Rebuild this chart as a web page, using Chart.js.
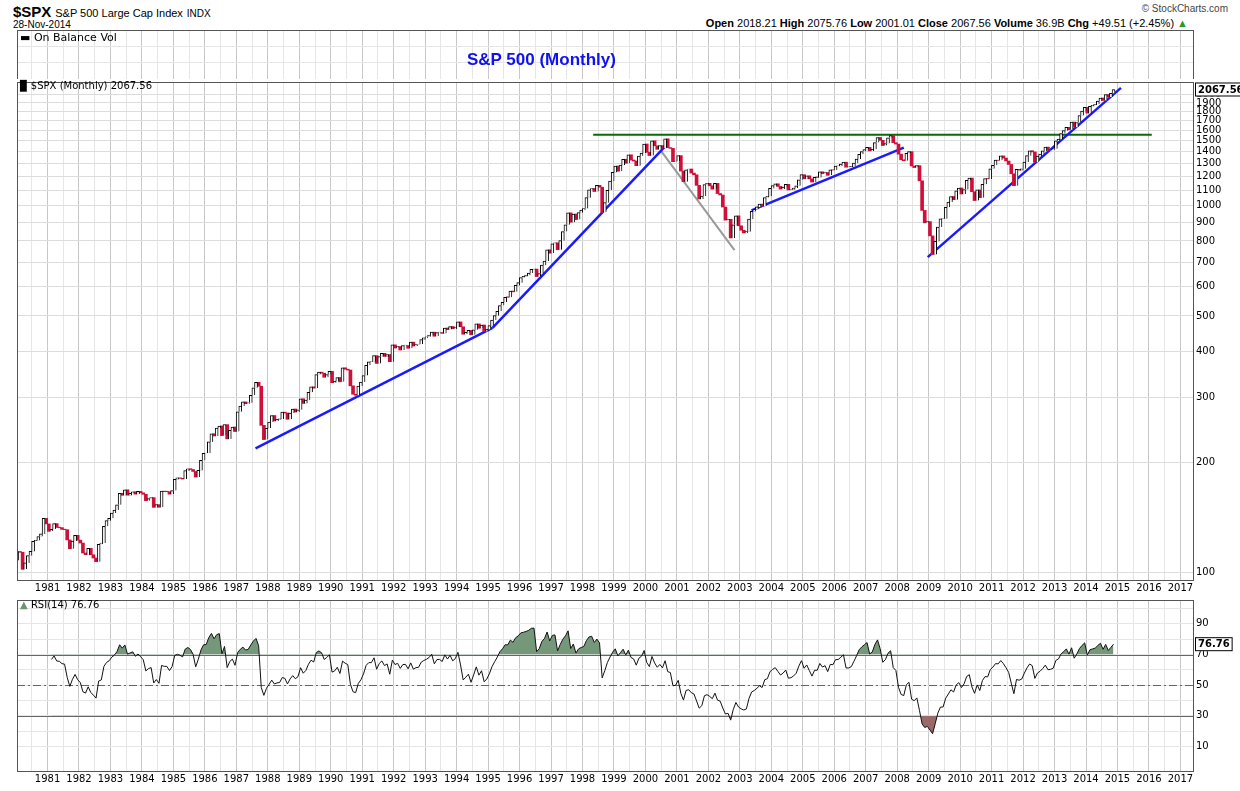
<!DOCTYPE html>
<html>
<head>
<meta charset="utf-8">
<script src="https://cdn.jsdelivr.net/npm/chart.js@4/dist/chart.umd.min.js"></script>
<style>
body { margin: 0; background: #fff; font-family: "Liberation Sans", Arial, sans-serif; }
.abs { position: absolute; }
canvas { position: absolute; left: 0; }
</style>
</head>
<body>
<div class="abs" style="left:13px;top:3px;font-size:14px;"><b style="font-size:15px">$SPX</b> <span style="font-size:11px">S&amp;P 500 Large Cap Index</span> <span style="font-size:10px">INDX</span></div>
<div class="abs" style="left:13px;top:19px;font-size:10px;">28-Nov-2014</div>
<div class="abs" style="right:12px;top:3px;font-size:10px;color:#444">&copy; StockCharts.com</div>
<div class="abs" style="right:52px;top:17px;font-size:11px;"><b>Open</b> 2018.21 <b>High</b> 2075.76 <b>Low</b> 2001.01 <b>Close</b> 2067.56 <b>Volume</b> 36.9B <b>Chg</b> +49.51 (+2.45%) <span style="color:#2a9a2a">&#9650;</span></div>
<canvas id="obv" style="top:30px" width="1240" height="49"></canvas>
<canvas id="price" style="top:73px" width="1240" height="527"></canvas>
<canvas id="rsi" style="top:591px" width="1240" height="200"></canvas>
<div class="abs" style="left:20px;top:31px;font-size:11px;font-family:'DejaVu Sans'">&#9644; On Balance Vol</div>
<div class="abs" style="left:467px;top:50px;font-size:17px;font-weight:bold;color:#1010f0">S&amp;P 500 (Monthly)</div>
<div class="abs" style="left:20px;top:80px;font-size:10px;font-family:'DejaVu Sans'">&#9609; $SPX (Monthly) 2067.56</div>
<div class="abs" style="left:20px;top:599px;font-size:10px;font-family:'DejaVu Sans'"><span style="color:#6f936f">&#9650;</span> RSI(14) 76.76</div>
<script>
// monthly closes, Jan 1980 - Nov 2014
var firstYear = 1980;
var prevClose = 107.94;
var closes = [
114.16,113.66,102.09,106.29,111.24,114.24,121.67,122.38,125.46,127.47,140.52,135.76,
129.55,131.27,136.00,132.81,132.59,131.21,130.92,122.79,116.18,121.89,126.35,122.55,
120.40,113.11,111.96,116.44,111.88,109.61,107.09,119.51,120.42,133.71,138.54,140.64,
145.30,148.06,152.96,164.42,162.39,168.11,162.56,164.40,166.07,163.55,166.40,164.93,
163.41,157.06,159.18,160.05,150.55,153.18,150.66,166.68,166.10,166.09,163.58,167.24,
179.63,181.18,180.66,179.83,189.55,191.85,190.92,188.63,182.08,189.82,202.17,211.28,
211.78,226.92,238.90,235.52,247.35,250.84,236.12,252.93,231.32,243.98,249.22,242.17,
274.08,284.20,291.70,288.36,290.10,304.00,318.66,329.80,321.83,251.79,230.30,247.08,
257.07,267.82,258.89,261.33,262.16,273.50,272.02,261.52,271.91,278.97,273.70,277.72,
297.47,288.86,294.87,309.64,320.52,317.98,346.08,351.45,349.15,340.36,345.99,353.40,
329.08,331.89,339.94,330.80,361.23,358.02,356.15,322.56,306.05,304.00,322.22,330.22,
343.93,367.07,375.22,375.35,389.83,371.16,387.81,395.43,387.86,392.46,375.22,417.09,
408.79,412.70,403.69,414.95,415.35,408.14,424.21,414.03,417.80,418.68,431.35,435.71,
438.78,443.38,451.67,440.19,450.19,450.53,448.13,463.56,458.93,467.83,461.79,466.45,
481.61,467.14,445.77,450.91,456.50,444.27,458.26,475.49,462.69,472.35,453.69,459.27,
470.42,487.39,500.71,514.71,533.40,544.75,562.06,561.88,584.41,581.50,605.37,615.93,
636.02,640.43,645.50,654.17,669.12,670.63,639.95,651.99,687.31,705.27,757.02,740.74,
786.16,790.82,757.12,801.34,848.28,885.14,954.29,899.47,947.28,914.62,955.40,970.43,
980.28,1049.34,1101.75,1111.75,1090.82,1133.84,1120.67,957.28,1017.01,1098.67,1163.63,1229.23,
1279.64,1238.33,1286.37,1335.18,1301.84,1372.71,1328.72,1320.41,1282.71,1362.93,1388.91,1469.25,
1394.46,1366.42,1498.58,1452.43,1420.60,1454.60,1430.83,1517.68,1436.51,1429.40,1314.95,1320.28,
1366.01,1239.94,1160.33,1249.46,1255.82,1224.42,1211.23,1133.58,1040.94,1059.78,1139.45,1148.08,
1130.20,1106.73,1147.39,1076.92,1067.14,989.82,911.62,916.07,815.28,885.76,936.31,879.82,
855.70,841.15,848.18,916.92,963.59,974.50,990.31,1008.01,995.97,1050.71,1058.20,1111.92,
1131.13,1144.94,1126.21,1107.30,1120.68,1140.84,1101.72,1104.24,1114.58,1130.20,1173.82,1211.92,
1181.27,1203.60,1180.59,1156.85,1191.50,1191.33,1234.18,1220.33,1228.81,1207.01,1249.48,1248.29,
1280.08,1280.66,1294.83,1310.61,1270.09,1270.20,1276.66,1303.82,1335.85,1377.94,1400.63,1418.30,
1438.24,1406.82,1420.86,1482.37,1530.62,1503.35,1455.27,1473.99,1526.75,1549.38,1481.14,1468.36,
1378.55,1330.63,1322.70,1385.59,1400.38,1280.00,1267.38,1282.83,1166.36,968.75,896.24,903.25,
825.88,735.09,797.87,872.81,919.14,919.32,987.48,1020.62,1057.08,1036.19,1095.63,1115.10,
1073.87,1104.49,1169.43,1186.69,1089.41,1030.71,1101.60,1049.33,1141.20,1183.26,1180.55,1257.64,
1286.12,1327.22,1325.83,1363.61,1345.20,1320.64,1292.28,1218.89,1131.42,1253.30,1246.96,1257.60,
1312.41,1365.68,1408.47,1397.91,1310.33,1362.16,1379.32,1406.58,1440.67,1412.16,1416.18,1426.19,
1498.11,1514.68,1569.19,1597.57,1630.74,1606.28,1685.73,1632.97,1681.55,1756.54,1805.81,1848.36,
1782.59,1859.45,1872.34,1883.95,1923.57,1960.23,1930.67,2003.37,1972.29,2018.05,2067.56
];
var priceTicks = [100,200,300,400,500,600,700,800,900,1000,1100,1200,1300,1400,1500,1600,1700,1800,1900,2000];
var rsiTicks = [10,30,50,70,90];
// trend lines drawn on the chart: [year, value] pairs
var trendBlue = [
  [[1987.61,218],[1995.14,464]],
  [[1995.14,464],[2000.65,1454]],
  [[2003.37,969],[2008.21,1436]],
  [[2008.97,723],[2015.11,2088]]
];
var trendGrey = [[2000.49,1410],[2002.83,755]];
var trendGreen = [[1998.34,1557],[2016.09,1557]];

var xMin = 1980.03, xMax = 2017.4;

function xScale(showLabels) {
    return {
        type: 'linear', min: xMin, max: xMax, offset: false,
        afterBuildTicks: function (s) {
            var t = [];
            for (var v = 1980.5; v < xMax; v += 0.5) t.push({value: v});
            s.ticks = t;
        },
        ticks: {
            display: showLabels, autoSkip: false, maxRotation: 0, padding: 2,
            color: '#000', font: {size: 10, family: 'DejaVu Sans'},
            callback: function (v) { return (v % 1 === 0 && v >= 1981) ? String(v) : ''; }
        },
        grid: {
            offset: false,
            color: function (c) { return c.tick && c.tick.value % 1 === 0 ? '#c8c8c8' : '#e6e6e6'; },
            drawTicks: false
        },
        border: {color: '#555'},
        afterFit: function (s) { s.height = showLabels ? 20 : 0; }
    };
}

function boxLabel(ctx, text, x, y) {
    ctx.save();
    ctx.font = 'bold 10px "DejaVu Sans"';
    var w = ctx.measureText(text).width + 5;
    ctx.fillStyle = '#fff';
    ctx.fillRect(x, y - 7, w, 14);
    ctx.strokeStyle = '#000';
    ctx.lineWidth = 1;
    ctx.strokeRect(x + 0.5, y - 6.5, w, 13);
    ctx.fillStyle = '#000';
    ctx.textBaseline = 'middle';
    ctx.fillText(text, x + 3, y + 0.5);
    ctx.restore();
}

// candles
var upBodies = [], downBodies = [];
var open = prevClose;
for (var i = 0; i < closes.length; i++) {
    var x = firstYear + Math.floor(i / 12) + ((i % 12) + 0.5) / 12;
    var c = closes[i];
    var lo = Math.min(open, c), hi = Math.max(open, c);
    if (hi - lo < 0.5) hi = lo * 1.003;
    (c >= open ? upBodies : downBodies).push({x: x, y: [lo, hi]});
    open = c;
}

function lineSet(pts, color, width) {
    return {
        type: 'line', data: pts.map(function (p) { return {x: p[0], y: p[1]}; }),
        borderColor: color, borderWidth: width, pointRadius: 0, fill: false
    };
}

var priceSets = [
    {type: 'bar', data: upBodies, backgroundColor: '#fff', borderColor: '#000', borderWidth: 1, barThickness: 3, grouped: false},
    {type: 'bar', data: downBodies, backgroundColor: '#d0103a', borderColor: '#d0103a', borderWidth: 0, barThickness: 3, grouped: false}
];
trendBlue.forEach(function (t) { priceSets.push(lineSet(t, '#1a1aff', 2.5)); });
priceSets.push(lineSet(trendGrey, '#9a9a9a', 2));
priceSets.push(lineSet(trendGreen, '#0a6a0a', 2));

function frame(ch) {
    var a = ch.chartArea, ctx = ch.ctx;
    ctx.save(); ctx.strokeStyle = '#555'; ctx.strokeRect(a.left + 0.5, a.top + 0.5, a.width, a.height); ctx.restore();
}

new Chart(document.getElementById('obv'), {
    type: 'line',
    data: {datasets: [{data: []}]},
    options: {
        responsive: false, animation: false, layout: {padding: {left: 17, right: 0, top: 0, bottom: 0}},
        plugins: {legend: {display: false}, tooltip: {enabled: false}},
        scales: {
            x: xScale(false),
            y: {position: 'right', min: 0, max: 3, ticks: {display: false, stepSize: 1}, grid: {color: '#e6e6e6', drawTicks: false},
                border: {color: '#555'}, afterFit: function (s) { s.width = 47; }}
        }
    },
    plugins: [{id: 'frame', afterDraw: frame}]
});

new Chart(document.getElementById('price'), {
    type: 'bar',
    data: {datasets: priceSets},
    options: {
        responsive: false, animation: false, layout: {padding: {left: 17, right: 0, top: 0, bottom: 0}},
        plugins: {legend: {display: false}, tooltip: {enabled: false}},
        scales: {
            x: xScale(true),
            y: {
                type: 'logarithmic', position: 'right', min: 95.5, max: 2167,
                afterBuildTicks: function (s) { s.ticks = priceTicks.map(function (v) { return {value: v}; }); },
                ticks: {autoSkip: false, color: '#000', padding: 3, font: {size: 10, family: 'DejaVu Sans'},
                        callback: function (v) { return String(v); }},
                grid: {color: '#dcdcdc', drawTicks: false},
                border: {color: '#555'},
                afterFit: function (s) { s.width = 47; }
            }
        }
    },
    plugins: [{id: 'last', afterDraw: function (ch) {
        frame(ch);
        boxLabel(ch.ctx, '2067.56', ch.chartArea.right + 2, ch.scales.y.getPixelForValue(2067.56));
    }}]
});

// RSI(14), Wilder smoothing on the closes above
var rsiPts = [];
var all = [prevClose].concat(closes);
var ag = 0, al = 0;
for (var k = 1; k < all.length; k++) {
    var d = all[k] - all[k - 1];
    var g = d > 0 ? d : 0, l = d < 0 ? -d : 0;
    if (k <= 14) { ag += g / 14; al += l / 14; }
    else { ag = (ag * 13 + g) / 14; al = (al * 13 + l) / 14; }
    if (k >= 14) {
        var j = k - 1;
        rsiPts.push({x: firstYear + Math.floor(j / 12) + ((j % 12) + 0.5) / 12, y: al === 0 ? 100 : 100 - 100 / (1 + ag / al)});
    }
}

new Chart(document.getElementById('rsi'), {
    type: 'line',
    data: {datasets: [
        {data: rsiPts, borderColor: '#111', borderWidth: 1, pointRadius: 0, tension: 0,
         fill: {target: {value: 70}, above: '#76987a', below: 'rgba(0,0,0,0)'}},
        {data: rsiPts, borderColor: 'rgba(0,0,0,0)', borderWidth: 0, pointRadius: 0, tension: 0,
         fill: {target: {value: 30}, above: 'rgba(0,0,0,0)', below: '#9a6a6a'}}
    ]},
    options: {
        responsive: false, animation: false, layout: {padding: {left: 17, right: 0, top: 0, bottom: 0}},
        plugins: {legend: {display: false}, tooltip: {enabled: false}},
        scales: {
            x: xScale(true),
            y: {
                position: 'right', min: -6, max: 105.6,
                afterBuildTicks: function (s) { var t = []; for (var v = 10; v <= 100; v += 10) t.push({value: v}); s.ticks = t; },
                ticks: {autoSkip: false, color: '#000', padding: 3, font: {size: 10, family: 'DejaVu Sans'},
                        callback: function (v) { return rsiTicks.indexOf(v) >= 0 ? String(v) : ''; }},
                grid: {color: '#e6e6e6', drawTicks: false},
                border: {color: '#555'},
                afterFit: function (s) { s.width = 47; }
            }
        }
    },
    plugins: [{id: 'levels', beforeDatasetsDraw: function (ch) {
        var a = ch.chartArea, ctx = ch.ctx, y = ch.scales.y;
        ctx.save();
        ctx.strokeStyle = '#666'; ctx.lineWidth = 1;
        [70, 30].forEach(function (v) {
            var p = Math.round(y.getPixelForValue(v)) + 0.5;
            ctx.beginPath(); ctx.moveTo(a.left, p); ctx.lineTo(a.right, p); ctx.stroke();
        });
        ctx.setLineDash([8, 3, 2, 3]);
        var p5 = Math.round(y.getPixelForValue(50)) + 0.5;
        ctx.beginPath(); ctx.moveTo(a.left, p5); ctx.lineTo(a.right, p5); ctx.stroke();
        ctx.restore();
    }, afterDraw: function (ch) {
        frame(ch);
        boxLabel(ch.ctx, '76.76', ch.chartArea.right + 2, ch.scales.y.getPixelForValue(76.76));
    }}]
});
</script>
</body>
</html>
